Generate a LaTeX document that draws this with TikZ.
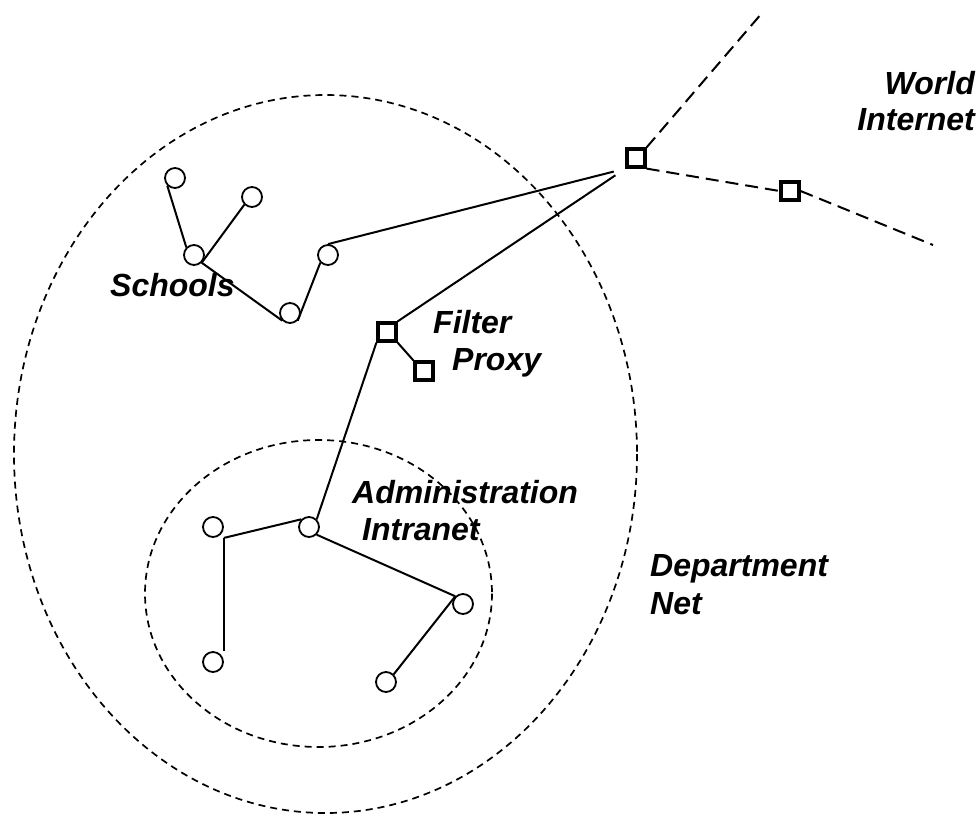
\documentclass[tikz,border=0pt]{standalone}
\usepackage{fontspec}
\setmainfont{Liberation Sans}
\begin{document}
\begin{tikzpicture}[x=1pt,y=-1pt,
  pc/.style={circle, draw, line width=1.8pt, minimum size=20pt, inner sep=0pt},
  router/.style={rectangle, draw, line width=3.2pt, minimum size=18pt, inner sep=0pt},
  link/.style={line width=2pt},
  wan/.style={line width=2pt, dash pattern=on 13pt off 7pt},
  zone/.style={line width=1.7pt, dash pattern=on 7pt off 5pt},
  lbl/.style={font=\fontsize{32}{36}\selectfont\bfseries\itshape, inner sep=0pt}]
\useasboundingbox (0,0) rectangle (980,815);

% zones
\draw[zone] (325.5,454) ellipse [x radius=311.5, y radius=359];
\draw[zone] (318.5,593.5) ellipse [x radius=173.5, y radius=153.5];

% schools
\node[pc] (c1) at (175,178) {};
\node[pc] (c2) at (252,197) {};
\node[pc] (c3) at (194,255) {};
\node[pc] (c4) at (290,313) {};
\node[pc] (c5) at (328,255) {};

% routers
\node[router] (R1) at (636,158) {};
\node[router] (R2) at (790,191) {};
\node[router] (F) at (387,332) {};
\node[router] (P) at (424,371) {};

% administration
\node[pc] (a1) at (213,527) {};
\node[pc] (a2) at (309,527) {};
\node[pc] (a3) at (463,604) {};
\node[pc] (a4) at (213,662) {};
\node[pc] (a5) at (386,682) {};

\coordinate (W1) at (762,13);
\coordinate (W2) at (933,245);

% school links
\draw[link] (c1.south west) -- (c3.north west);
\draw[link] (c3.south east) -- (c2.south west);
\draw[link] (c3.south east) -- (c4.south west);
\draw[link] (c4.south east) -- (c5.south west);
\draw[link, shorten >=12pt] (c5.north) -- (R1.south west);
\draw[link, shorten >=12pt] (F.north east) -- (R1.south west);
\draw[link] (F.south west) -- (a2.north east);
\draw[link] (F.south east) -- (P.north west);

% admin links
\draw[link] (a1.east |- a1.south) -- (a2.north west);
\draw[link] (a1.east |- a1.south) -- (a4.east |- a4.north);
\draw[link] (a2.south east) -- (a3.north west);
\draw[link] (a3.north west) -- (a5.north east);

% internet links
\draw[wan] (R1.north east) -- (W1);
\draw[wan] (R1.south east) -- (R2.west);
\draw[wan] (R2.east) -- (W2);

% labels
\node[lbl, anchor=base west] (tSchools) at (110,296) {Schools};
\node[lbl, anchor=base west] (tFilter) at (433,333) {Filter};
\node[lbl, anchor=base west] (tProxy) at (452,370) {Proxy};
\node[lbl, anchor=base west] (tAdmin) at (352,503) {Administration};
\node[lbl, anchor=base west] (tIntra) at (362,540) {Intranet};
\node[lbl, anchor=base west] (tDept) at (650,576) {Department};
\node[lbl, anchor=base west] (tNet) at (650,614) {Net};
\node[lbl, anchor=base east] (tWorld) at (975,94) {World};
\node[lbl, anchor=base east] (tInet) at (975,130) {Internet};
\end{tikzpicture}
\end{document}
